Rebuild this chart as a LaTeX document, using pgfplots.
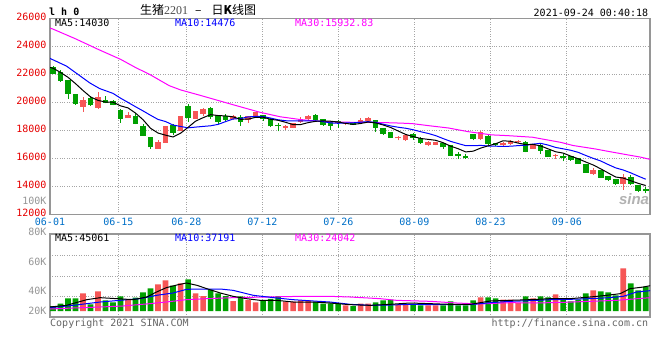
\documentclass[border=0pt]{standalone}
\usepackage{fontspec}
\usepackage{pgfplots}
\usepackage{pgfplotstable}
\pgfplotsset{compat=1.18}
\newfontfamily\mono{DejaVu Sans Mono}
\newfontfamily\cjk{Noto Sans CJK SC}
\newfontfamily\serifnum{Liberation Serif}
\newfontfamily\sinafont{Liberation Sans}
\newcommand\tf{\mono\fontsize{10}{12}\selectfont}
\definecolor{cRed}{RGB}{246,86,86}
\definecolor{cGreen}{RGB}{0,160,0}
\definecolor{dateBlue}{RGB}{0,112,200}
\definecolor{lblRed}{RGB}{230,0,0}
\definecolor{gridGray}{RGB}{165,165,165}
\definecolor{frameGray}{RGB}{150,150,150}
\definecolor{maBlue}{RGB}{0,0,255}
\definecolor{maMag}{RGB}{255,0,255}
\definecolor{txtGray}{RGB}{150,150,150}

% up (red) candles: index, open, high, low, close, volume
\pgfplotstableread{
i O H L C V
4 19714 20381 19357 20119 30917
6 19643 20762 19548 20333 34417
10 18881 19333 18881 19048 19833
14 16714 17310 16714 17143 46667
15 17143 18286 17119 18286 53667
17 18000 19048 18000 18976 48417
19 18833 19357 18833 19357 30917
20 19167 19595 19071 19524 26250
24 18833 19119 18762 19024 17500
26 18738 19048 18524 18976 19250
27 18929 19357 18881 19310 15167
31 18214 18405 18048 18262 16300
32 18214 18571 18167 18476 16300
33 18643 19000 18571 18810 18667
34 18810 19119 18762 18976 18667
39 18452 18571 18381 18500 9917
41 18524 18881 18500 18714 12833
42 18714 19000 18690 18881 12833
46 17429 17619 17286 17476 11083
47 17286 17690 17262 17643 11083
50 16976 17262 16881 17167 9917
51 16976 17167 16929 17143 9917
57 17405 18000 17310 17881 23917
60 16929 17167 16881 17095 19833
61 17024 17333 17000 17214 19833
62 17190 17333 17119 17238 14583
64 16690 17048 16667 16976 22167
67 16167 16357 16000 16214 29167
72 14905 15310 14833 15143 36167
76 14190 14905 13762 14643 74667
}\upT

% down (green) candles
\pgfplotstableread{
i O H L C V
0 22500 22619 22024 22071 8750
1 22167 22310 21500 21571 12833
2 21548 21571 20238 20619 22167
3 20548 20595 19833 19905 22167
5 20286 20500 19762 19786 11667
7 20143 20500 19929 20000 18667
8 20048 20214 19786 19857 15167
9 19429 19548 18571 18833 25667
11 19000 19238 18429 18476 23333
12 18286 18476 17595 17643 32667
13 17500 17571 16690 16786 39667
16 18333 18452 17690 17833 44600
18 19714 19905 18643 18881 55417
21 19595 19714 18833 18929 37600
22 19000 19119 18476 18643 30917
23 18976 19167 18643 18762 26250
25 18952 19119 18333 18643 25667
28 19048 19119 18714 18786 18667
29 18762 18881 18238 18286 21300
30 18357 18524 17929 18286 26250
35 19071 19167 18714 18762 15750
36 18762 18833 18357 18405 12833
37 18571 18643 18048 18357 13500
38 18643 18762 18214 18524 13500
40 18595 18643 18381 18405 8750
43 18690 18738 17881 18214 15167
44 18119 18167 17690 17762 18667
45 17857 17905 17452 17500 19833
48 17738 17857 17333 17452 11083
49 17452 17548 17048 17095 9917
52 17048 17095 16690 16786 9917
53 16929 16976 16167 16214 16917
54 16310 16429 15976 16190 9917
55 16119 16333 16000 16024 9917
56 17690 17738 17286 17405 18667
58 17571 17738 16976 17024 23917
59 17048 17143 16881 16929 22167
63 17167 17262 16429 16500 25667
65 16905 17024 16333 16571 25667
66 16571 16619 16119 16143 23917
68 16119 16310 15786 16024 19833
69 16143 16214 15833 15905 16917
70 15976 16024 15595 15619 19833
71 15548 15571 14976 15000 30917
73 15119 15167 14595 14643 34417
74 14714 14762 14405 14429 32667
75 14476 14524 14143 14167 27417
77 14619 14833 14119 14190 48417
78 14048 14119 13595 13690 36167
79 13786 14000 13524 13667 42583
}\downT

\pgfplotsset{
  sinaaxis/.style={
    scale only axis, width=600pt,
    xmin=-0.4, xmax=79.57,
    scaled x ticks=false, scaled y ticks=false,
    axis line style={draw=frameGray, line width=1.2pt},
    major tick length=0pt,
    xtick={-0.4,8.71,17.77,27.91,38.04,48.17,58.31,68.49},
    xmajorgrids, ymajorgrids,
    grid style={draw=gridGray, line width=0.8pt, dash pattern=on 0.8pt off 1.6pt},
    clip=true,
  }
}

\begin{document}
\begin{tikzpicture}[x=1pt,y=1pt]
\path[use as bounding box, fill=white] (0,0) rectangle (660,360);

% ---------------- price panel ----------------
\begin{axis}[sinaaxis,
  at={(50pt,145.5pt)}, anchor=south west, height=196pt,
  ymin=12000, ymax=26000,
  xticklabels={06-01,06-15,06-28,07-12,07-26,08-09,08-23,09-06},
  ytick={12000,14000,16000,18000,20000,22000,24000,26000},
  yticklabels={12000,14000,16000,18000,20000,22000,24000,26000},
  xticklabel style={font=\tf, text=dateBlue},
  yticklabel style={font=\tf, text=lblRed, yshift=1.5pt},
]
% wicks
\addplot[draw=none, mark=none, forget plot, error bars/.cd, y dir=plus, y explicit, error mark=none,
  error bar style={draw=cRed, line width=1pt}]
  table[x=i, y=L, y error expr=\thisrow{H}-\thisrow{L}] {\upT};
\addplot[draw=none, mark=none, forget plot, error bars/.cd, y dir=plus, y explicit, error mark=none,
  error bar style={draw=cGreen, line width=1pt}]
  table[x=i, y=L, y error expr=\thisrow{H}-\thisrow{L}] {\downT};
% bodies
\addplot[draw=none, mark=none, forget plot, error bars/.cd, y dir=plus, y explicit, error mark=none,
  error bar style={draw=cRed, line width=5.6pt}]
  table[x=i, y=O, y error expr=\thisrow{C}-\thisrow{O}+40] {\upT};
\addplot[draw=none, mark=none, forget plot, error bars/.cd, y dir=plus, y explicit, error mark=none,
  error bar style={draw=cGreen, line width=5.6pt}]
  table[x=i, y=C, y error expr=\thisrow{O}-\thisrow{C}+40] {\downT};

% MA30
\addplot[maMag, line width=1pt, mark=none] coordinates {
(-0.4,25314) (0,25243) (3,24550) (6,23800) (9,23086) (11,22500) (12.9,22000) (15.5,21200)
(17,20900) (19.7,20500) (22.3,20100) (24.6,19750) (27.6,19300) (30.3,18980) (33,18780)
(35.6,18650) (38,18600) (41,18580) (43.7,18570) (46.3,18530) (47.9,18490) (50,18350)
(52.7,18180) (55.3,17920) (58.4,17690) (60.7,17630) (63.9,17520) (67.7,17150) (69.3,16930)
(72.3,16680) (73.9,16520) (76.7,16250) (78.3,16100) (79.6,15933)};
% MA10
\addplot[maBlue, line width=1pt, mark=none] coordinates {
(-0.4,23150) (1.8,22600) (4.9,21400) (6.2,21000) (8,20650)
(9,20310) (10,20007) (11,19698) (12,19400) (13,19088) (14,18791) (15,18641) (16,18391)
(17,18288) (18,18191) (19,18243) (20,18291) (21,18336) (22,18436) (23,18634) (24,18822)
(25,18857) (26,18972) (27,19005) (28,18996) (29,18888) (30,18765) (31,18698) (32,18681)
(33,18686) (34,18681) (35,18693) (36,18636) (37,18541) (38,18515) (39,18536) (40,18548)
(41,18593) (42,18634) (43,18574) (44,18453) (45,18326) (46,18234) (47,18162) (48,18055)
(49,17914) (50,17791) (51,17634) (52,17424) (53,17224) (54,17067) (55,16919) (56,16912)
(57,16936) (58,16893) (59,16877) (60,16869) (61,16877) (62,16922) (63,16950) (64,17029)
(65,17084) (66,16958) (67,16791) (68,16691) (69,16588) (70,16441) (71,16219) (72,16010)
(73,15824) (74,15569) (75,15329) (76,15179) (77,14976) (78,14743) (79,14519)};
% MA5
\addplot[black, line width=1pt, mark=none] coordinates {
(-0.4,22500) (0,22450) (1,22150) (2,21800) (3,21350) (4,20857) (5,20400) (6,20152)
(7,20029) (8,20019) (9,19762) (10,19614) (11,19243) (12,18771) (13,18157) (14,17819)
(15,17667) (16,17538) (17,17805) (18,18224) (19,18667) (20,18914) (21,19133) (22,19067)
(23,19043) (24,18976) (25,18800) (26,18810) (27,18943) (28,18948) (29,18800) (30,18729)
(31,18586) (32,18419) (33,18424) (34,18562) (35,18657) (36,18686) (37,18662) (38,18605)
(39,18510) (40,18438) (41,18500) (42,18605) (43,18543) (44,18395) (45,18214) (46,17967)
(47,17719) (48,17567) (49,17433) (50,17367) (51,17300) (52,17129) (53,16881) (54,16700)
(55,16471) (56,16524) (57,16743) (58,16905) (59,17053) (60,17267) (61,17229) (62,17100)
(63,16995) (64,17005) (65,16900) (66,16686) (67,16481) (68,16386) (69,16171) (70,15981)
(71,15752) (72,15538) (73,15262) (74,14967) (75,14676) (76,14605) (77,14414) (78,14224)
(79,14071)};
\end{axis}

% ---------------- volume panel ----------------
\begin{axis}[sinaaxis,
  at={(50pt,43pt)}, anchor=south west, height=83pt,
  ymin=-10500, ymax=134750,
  xticklabels={}, ytick={26250,61250,98000}, yticklabels={},
]
\addplot[ybar, bar width=5.6pt, bar shift=0pt, fill=cRed, draw=none] table[x=i, y=V] {\upT};
\addplot[ybar, bar width=5.6pt, bar shift=0pt, fill=cGreen, draw=none] table[x=i, y=V] {\downT};
% volume MA30
\addplot[maMag, line width=1pt, mark=none] coordinates {
(-0.4,3500) (2.7,5250) (6.3,7000) (9.3,8750) (12.9,12833) (15.1,15750) (17.8,19833)
(20.5,21583) (24.0,23333) (28.5,24500) (33.0,25667) (36.9,25667) (39.6,24500) (43.6,21583)
(45.8,18667) (50.3,16917) (53.8,14000) (56.9,12250) (60.9,14583) (64.4,14000) (68.0,15167)
(71.6,16917) (75.1,18667) (79.6,23333)};
% volume MA10
\addplot[maBlue, line width=1pt, mark=none] coordinates {
(-0.4,5833) (2.7,9917) (6.3,15750) (8.9,18667) (11.6,21583) (13.8,27417) (16.0,31500)
(17.8,37917) (19.6,38500) (22.3,38500) (24.0,36167) (26.7,27417) (29.4,23333) (32.0,19833)
(34.7,17500) (36.9,15750) (39.6,11667) (42.3,9917) (44.9,10500) (47.6,11667) (50.3,11083)
(55.6,11083) (58.3,14583) (60.9,16917) (63.6,18083) (66.3,19833) (68.9,20417) (71.6,21583)
(74.2,23333) (76.0,25667) (77.8,33250) (79.6,35583)};
% volume MA5
\addplot[black, line width=1pt, mark=none] coordinates {
(-0.4,7000) (1.8,9917) (4.5,19833) (6.3,23333) (8.5,21583) (10.7,19833) (12.5,24500)
(13.8,33250) (15.1,40833) (16.5,45500) (17.8,49000) (19.2,44917) (20.5,39083) (22.3,31500)
(24.0,25667) (25.8,21583) (27.6,18667) (29.8,18667) (32.0,15750) (34.7,15750) (36.9,14000)
(39.6,11083) (42.3,9917) (44.9,11667) (47.6,14000) (50.3,12833) (52.9,11667) (55.6,11667)
(58.3,17500) (60.9,18667) (63.6,19833) (66.3,21583) (68.9,21583) (71.6,24500) (73.8,27417)
(75.6,30333) (76.9,39083) (78.7,42000) (79.6,44333)};
\end{axis}

% ---------------- texts ----------------
\begin{scope}[every node/.style={inner sep=0pt}]
\node[anchor=base west, font=\mono\bfseries\fontsize{10}{12}\selectfont] at (49,345) {l h 0};
\node[anchor=base west] at (140,345.5) {\cjk\fontsize{12}{14}\selectfont 生猪{\serifnum\color{black!70}2201}\hspace{7pt}–\hspace{10pt}日\textbf{K}线图};
\node[anchor=base east, font=\tf] at (648.3,344) {2021-09-24 00:40:18};
\node[anchor=base west, font=\tf] at (55,333.3) {MA5:14030};
\node[anchor=base west, font=\tf, text=maBlue] at (175,333.3) {MA10:14476};
\node[anchor=base west, font=\tf, text=maMag] at (295,333.3) {MA30:15932.83};
\node[anchor=base west, font=\tf] at (55,118.3) {MA5:45061};
\node[anchor=base west, font=\tf, text=maBlue] at (175,118.3) {MA10:37191};
\node[anchor=base west, font=\tf, text=maMag] at (295,118.3) {MA30:24042};
\node[anchor=base east, font=\tf, text=txtGray] at (46.7,156) {100K};
\node[anchor=base east, font=\tf, text=txtGray] at (46.7,125) {80K};
\node[anchor=base east, font=\tf, text=txtGray] at (46.7,95) {60K};
\node[anchor=base east, font=\tf, text=txtGray] at (46.7,66) {40K};
\node[anchor=base east, font=\tf, text=txtGray] at (46.7,46) {20K};
\node[anchor=base west, font=\tf, text=black!60] at (50,33.3) {Copyright 2021 SINA.COM};
\node[anchor=base east, font=\tf, text=black!60] at (648.3,34) {http://finance.sina.com.cn};
\node[anchor=center, text=black!30] at (634,161) {\sinafont\bfseries\itshape\fontsize{15}{15}\selectfont sina};
\end{scope}
\end{tikzpicture}
\end{document}
